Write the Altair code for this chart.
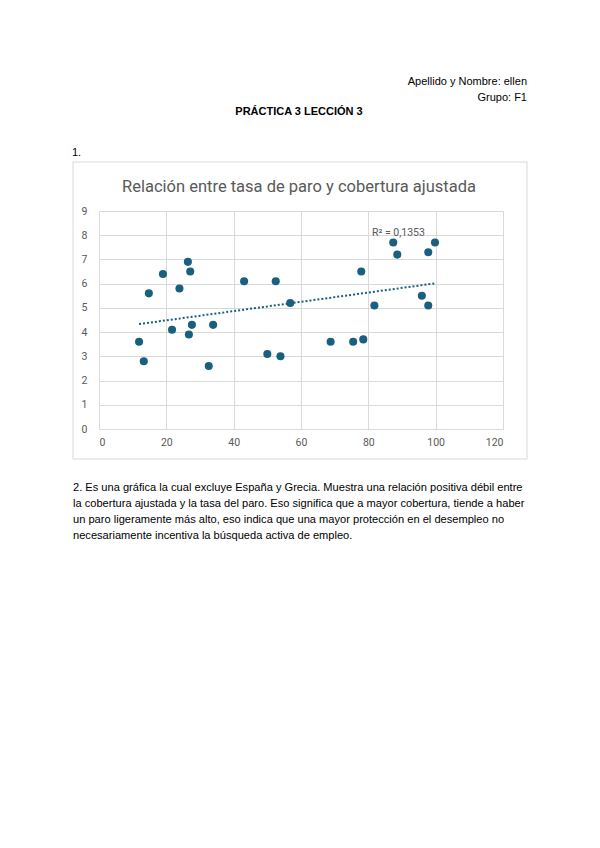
import altair as alt
import pandas as pd

# Data
cobertura = [11.9, 13.3, 14.8, 19.0, 21.7, 23.9, 26.4, 27.1, 26.7, 27.6, 32.6, 33.9,
             43.1, 50.0, 52.5, 53.9, 56.8, 68.8, 75.5, 78.5, 77.9, 81.8, 87.4, 88.6,
             95.9, 97.8, 97.8, 99.8]
paro = [3.6, 2.8, 5.6, 6.4, 4.1, 5.8, 6.9, 6.5, 3.9, 4.3, 2.6, 4.3,
        6.1, 3.1, 6.1, 3.0, 5.2, 3.6, 3.6, 3.7, 6.5, 5.1, 7.7, 7.2,
        5.5, 5.1, 7.3, 7.7]
x_ticks = [0, 20, 40, 60, 80, 100, 120]
y_ticks = [0, 1, 2, 3, 4, 5, 6, 7, 8, 9]

header_lines = ["Apellido y Nombre: ellen", "Grupo: F1"]
heading = "PRÁCTICA 3 LECCIÓN 3"
item1 = "1."
chart_title = "Relación entre tasa de paro y cobertura  ajustada"
r2_label = "R² = 0,1353"
paragraph = [
    "2. Es una gráfica la cual excluye España y Grecia. Muestra una relación positiva débil entre",
    "la cobertura ajustada y la tasa del paro. Eso significa que a mayor cobertura, tiende a haber",
    "un paro ligeramente más alto, eso indica que una mayor protección en el desempleo no",
    "necesariamente incentiva la búsqueda activa de empleo.",
]

df = pd.DataFrame({"cobertura": cobertura, "paro": paro})

COLOR = "#1a5f7e"
GRAY = "#595959"
DOC_FONT = "Liberation Sans"

xenc = alt.X("cobertura:Q", scale=alt.Scale(domain=[0, 120], nice=False),
             axis=alt.Axis(values=x_ticks, title=None))
yenc = alt.Y("paro:Q", scale=alt.Scale(domain=[0, 9], nice=False),
             axis=alt.Axis(values=y_ticks, title=None))

base = alt.Chart(df)
points = base.mark_circle(size=65, color=COLOR, opacity=1).encode(x=xenc, y=yenc)
trend = base.transform_regression("cobertura", "paro").mark_line(
    color=COLOR, strokeDash=[2, 2], strokeWidth=2
).encode(x=xenc, y=yenc)


def txt(s, x, y, **kw):
    return alt.Chart(pd.DataFrame({"t": [s]})).mark_text(**kw).encode(
        x=alt.value(x), y=alt.value(y), text="t:N")


frame = alt.Chart(pd.DataFrame({"t": [0]})).mark_rect(
    fill=None, stroke="#d9d9d9", strokeWidth=1
).encode(x=alt.value(-26), x2=alt.value(428), y=alt.value(-49), y2=alt.value(248))

layers = [frame, trend, points]
layers.append(txt(header_lines[0], 428, -129, align="right", font=DOC_FONT, fontSize=11, color="black"))
layers.append(txt(header_lines[1], 428, -113, align="right", font=DOC_FONT, fontSize=11, color="black"))
layers.append(txt(heading, 200, -99, align="center", font=DOC_FONT, fontSize=11, fontWeight="bold", color="black"))
layers.append(txt(item1, -27, -58, align="left", font=DOC_FONT, fontSize=11, color="black"))
layers.append(txt(chart_title, 200, -24, align="center", font="Roboto", fontSize=16.5, color=GRAY))
layers.append(txt(r2_label, 273, 22, align="left", font="Roboto", fontSize=10.5, color=GRAY))
for i, line in enumerate(paragraph):
    layers.append(txt(line, -26, 277 + 16 * i, align="left", font=DOC_FONT, fontSize=11.1, color="black"))

chart = alt.layer(*layers).properties(
    width=404, height=218,
    autosize=alt.AutoSizeParams(type="none"),
    padding={"left": 91, "top": 203, "right": 89, "bottom": 411},
).configure_view(stroke=None).configure_axis(
    grid=True, gridColor="#d9d9d9", domain=False, ticks=False,
    labelColor=GRAY, labelFont="Roboto", labelFontSize=10.5,
).configure_axisX(domain=True, domainColor="#d9d9d9", labelPadding=8).configure_axisY(labelPadding=12)

chart.save("out.html", embed_options={"renderer": "svg", "actions": False})
